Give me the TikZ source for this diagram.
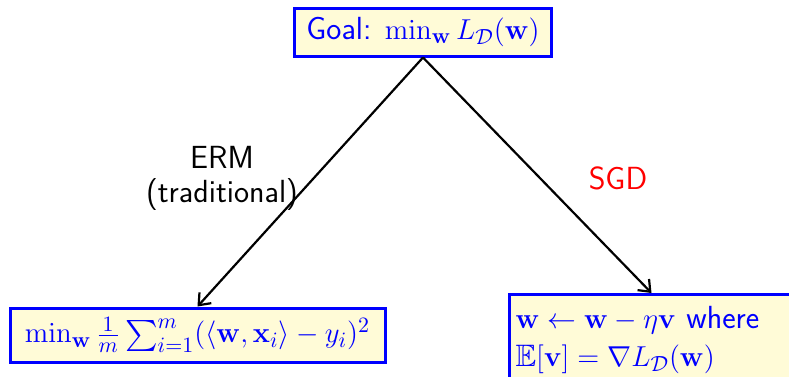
\documentclass[tikz,border=0pt]{standalone}
\usepackage{amsmath, amssymb}
\usepackage{tikz}
\usetikzlibrary{arrows.meta}
\newcommand{\vw}{\mathbf{w}}
\newcommand{\distD}{\mathcal{D}}
% math a little smaller than the sans text
\newcommand{\mth}[1]{{\fontsize{15.5}{17}\selectfont$#1$}}
\definecolor{boxfill}{RGB}{255,251,215}
\definecolor{boxblue}{RGB}{0,0,255}
\tikzset{
  lblfont/.style={font=\sffamily\fontsize{16}{17}\selectfont},
  algbox/.style={draw=boxblue, fill=boxfill, line width=1.5pt, text=boxblue,
    lblfont, inner sep=3pt},
  branch/.style={-{Straight Barb[length=5pt, width=8pt]}, line width=1.1pt}
}

\begin{document}
\begin{tikzpicture}[x=0.5pt, y=-0.5pt]
  \useasboundingbox (0,0) rectangle (789,376);

  % the three boxes
  \node[algbox, minimum width=128.5pt, minimum height=24pt] (goal) at (423,32)
    {Goal: \mth{\min_{\vw} L_{\distD}(\vw)}};
  \node[algbox, minimum width=187.5pt, minimum height=27pt] (erm) at (197.5,335)
    {\mth{\min_{\vw} \frac{1}{m}\sum_{i=1}^m (\langle \vw, \mathbf{x}_i\rangle - y_i)^2}};
  \node[algbox, anchor=north west, text width=136pt, minimum height=45pt, align=left,
    inner xsep=3pt, inner ysep=1pt] (sgd) at (508,293)
    {\mth{\vw \leftarrow \vw - \eta\mathbf{v}} where\\[2pt] \mth{\mathbb{E}[\mathbf{v}] = \nabla L_{\distD}(\vw)}};

  % branches
  \draw[branch] (goal.south) -- (erm.north);
  \draw[branch] (goal.south) -- (sgd.north);
  \node[lblfont, align=center] (ermlbl) at (222,178) {ERM\\(traditional)};
  \node[lblfont, text=red] (sgdlbl) at (618,178) {SGD};
\end{tikzpicture}
\end{document}
